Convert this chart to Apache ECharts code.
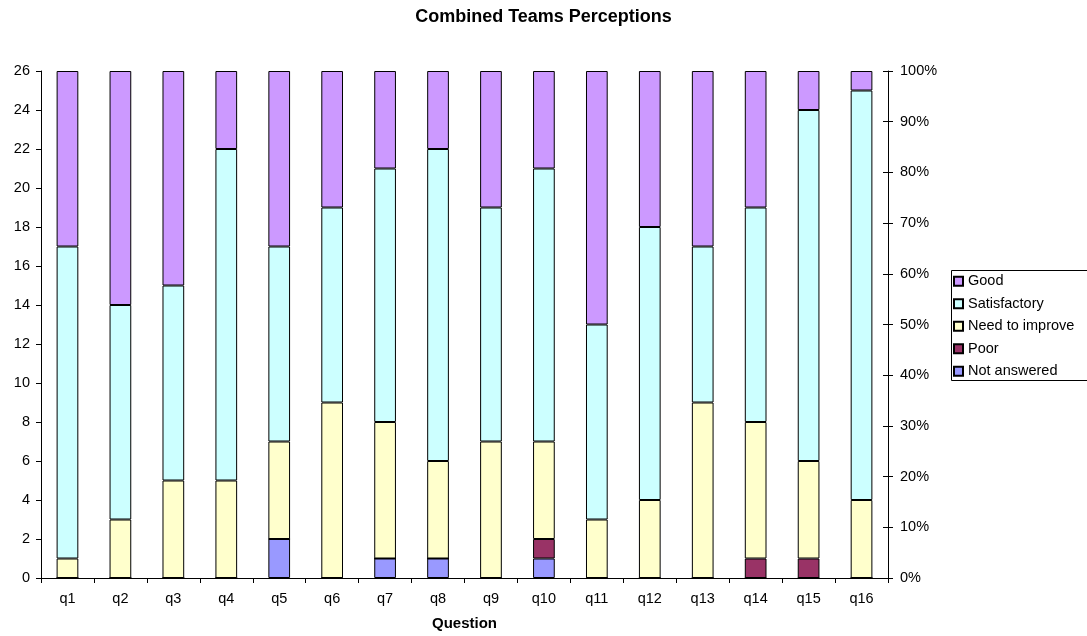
<!DOCTYPE html>
<html>
<head>
<meta charset="utf-8">
<script src="https://cdn.jsdelivr.net/npm/echarts@6/dist/echarts.min.js"></script>
<style>
html,body{margin:0;padding:0;background:#fff;}
#c{width:1087px;height:636px;}
</style>
</head>
<body>
<div id="c"></div>
<script>
const categories = ['q1','q2','q3','q4','q5','q6','q7','q8','q9','q10','q11','q12','q13','q14','q15','q16'];
const notAnswered   = [0,0,0,0,2,0,1,1,0,1,0,0,0,0,0,0];
const poor          = [0,0,0,0,0,0,0,0,0,1,0,0,0,1,1,0];
const needToImprove = [1,3,5,5,5,9,7,5,7,5,3,4,9,7,5,4];
const satisfactory  = [16,11,10,17,10,10,13,16,12,14,10,14,8,11,18,21];
const good          = [9,12,11,4,9,7,5,4,7,5,13,8,9,7,2,1];
const legendOrder = ['Good','Satisfactory','Need to improve','Poor','Not answered'];
const leftTicks = {min:0, max:26, interval:2};
const rightTicks = {min:0, max:100, interval:10};

const font = '"Liberation Sans", Arial, sans-serif';
const fs = 14.5;
const chart = echarts.init(document.getElementById('c'), null, {renderer:'canvas'});
function bar(name, data, color){
  return {
    name, type:'bar', stack:'all', data, barWidth:'41%',
    itemStyle:{color, borderColor:'#000', borderWidth:1},
    emphasis:{disabled:true}
  };
}
chart.setOption({
  animation:false,
  backgroundColor:'#fff',
  title:{text:'Combined Teams Perceptions', left:'center', top:8, padding:0,
    textStyle:{fontFamily:font, fontSize:18, fontWeight:'bold', color:'#000'}},
  grid:{left:41, right:199, top:71, bottom:56, containLabel:false},
  legend:{
    orient:'vertical', left:953, top:270, padding:0,
    itemWidth:9, itemHeight:9, itemGap:0,
    data:legendOrder,
    textStyle:{fontFamily:font, fontSize:fs, color:'#000', lineHeight:22.5},
    icon:'rect'
  },
  graphic:[{type:'rect', shape:{x:951.5, y:270.5, width:140, height:110},
    style:{fill:'none', stroke:'#000', lineWidth:1}, silent:true}],
  xAxis:{
    type:'category', data:categories,
    name:'Question', nameLocation:'middle', nameGap:38,
    nameTextStyle:{fontFamily:font, fontSize:15, fontWeight:'bold', color:'#000'},
    axisLine:{lineStyle:{color:'#000', width:1}},
    axisTick:{show:true, length:5, lineStyle:{color:'#000'}},
    axisLabel:{fontFamily:font, fontSize:fs, color:'#000', margin:13}
  },
  yAxis:[
    {type:'value', position:'left', min:leftTicks.min, max:leftTicks.max, interval:leftTicks.interval,
      axisLine:{show:true, lineStyle:{color:'#000'}},
      axisTick:{show:true, length:5, lineStyle:{color:'#000'}},
      axisLabel:{fontFamily:font, fontSize:fs, color:'#000', margin:11},
      splitLine:{show:false}},
    {type:'value', position:'right', min:rightTicks.min, max:rightTicks.max, interval:rightTicks.interval,
      axisLine:{show:true, lineStyle:{color:'#000'}},
      axisTick:{show:true, length:5, lineStyle:{color:'#000'}},
      axisLabel:{fontFamily:font, fontSize:fs, color:'#000', margin:12, formatter:'{value}%'},
      splitLine:{show:false}},
    {type:'value', position:'right', min:rightTicks.min, max:rightTicks.max, interval:rightTicks.interval,
      axisLine:{show:false},
      axisTick:{show:true, inside:true, length:5, lineStyle:{color:'#000'}},
      axisLabel:{show:false},
      splitLine:{show:false}}
  ],
  series:[
    bar('Not answered', notAnswered, '#9999FF'),
    bar('Poor', poor, '#993366'),
    bar('Need to improve', needToImprove, '#FFFFCC'),
    bar('Satisfactory', satisfactory, '#CCFFFF'),
    bar('Good', good, '#CC99FF')
  ]
});
</script>
</body>
</html>
